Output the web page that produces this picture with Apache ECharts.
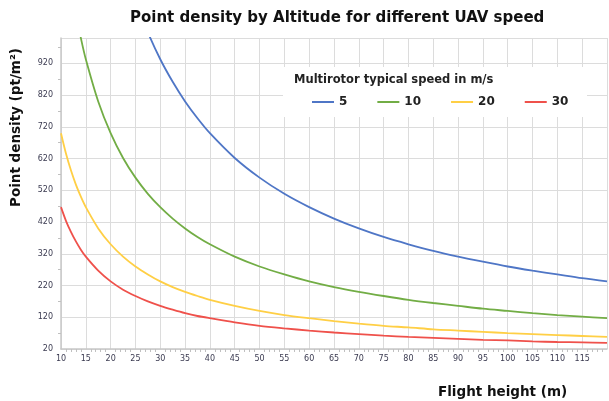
<!DOCTYPE html>
<html>
<head>
<meta charset="utf-8">
<script src="https://cdn.jsdelivr.net/npm/echarts@6/dist/echarts.min.js"></script>
<style>html,body{margin:0;padding:0;background:#fff;}#c{width:609px;height:401px;}</style>
</head>
<body>
<div id="c"></div>
<script>
var heights = [10, 11, 12, 13, 14, 15, 17.5, 20, 22.5, 25, 27.5, 30, 32.5, 35, 37.5, 40, 45, 50, 55, 60, 65, 70, 75, 80, 85, 90, 95, 100, 105, 110, 115, 120];
var speed5  = [null, null, null, null, null, null, null, null, null, 1120, 1018, 933, 862, 800, 747, 700, 622, 560, 509, 467, 431, 400, 373, 350, 329, 311, 295, 280, 267, 255, 243, 233];
var speed10 = [null, null, null, 1077, 1000, 933, 800, 700, 622, 560, 509, 467, 431, 400, 373, 350, 311, 280, 255, 233, 215, 200, 187, 175, 165, 156, 147, 140, 133, 127, 122, 117];
var speed20 = [700, 636, 583, 538, 500, 467, 400, 350, 311, 280, 255, 233, 215, 200, 187, 175, 156, 140, 127, 117, 108, 100, 93, 88, 82, 78, 74, 70, 67, 64, 61, 58];
var speed30 = [467, 424, 389, 359, 333, 311, 267, 233, 207, 187, 170, 156, 144, 133, 124, 117, 104, 93, 85, 78, 72, 67, 62, 58, 55, 52, 49, 47, 44, 42, 41, 39];
var seriesNames = ['5', '10', '20', '30'];
var xTicks = [10, 15, 20, 25, 30, 35, 40, 45, 50, 55, 60, 65, 70, 75, 80, 85, 90, 95, 100, 105, 110, 115];
var yTicks = [20, 120, 220, 320, 420, 520, 620, 720, 820, 920];

var colors = ['#4f76c6', '#72ad45', '#ffcf45', '#ef514b'];
function pairs(vals) { return heights.map(function (h, i) { return [h, vals[i]]; }); }
var allVals = [speed5, speed10, speed20, speed30];

var chart = echarts.init(document.getElementById('c'));
var font = 'DejaVu Sans';
chart.setOption({
  animation: false,
  backgroundColor: '#ffffff',
  grid: { left: 61, right: 2, top: 38, bottom: 52, containLabel: false },
  xAxis: {
    type: 'value', min: 10, max: 120, interval: 5,
    axisLine: { lineStyle: { color: '#c8c8c8', width: 1.5 } },
    axisTick: { show: false },
    minorTick: { show: true, splitNumber: 5, length: 3, lineStyle: { color: '#c0c0c0' } },
    splitLine: { show: true, lineStyle: { color: '#dcdcdc', width: 1 } },
    axisLabel: {
      fontFamily: font, fontSize: 8, color: '#3a3a50', margin: 6, showMaxLabel: false,
      formatter: function (v) { return xTicks.indexOf(v) >= 0 ? String(v) : ''; }
    }
  },
  yAxis: {
    type: 'value', min: 20, max: 1000, interval: 100,
    axisLine: { show: true, lineStyle: { color: '#c8c8c8', width: 1.5 } },
    axisTick: { show: false },
    minorTick: { show: true, splitNumber: 2, length: 3, lineStyle: { color: '#c0c0c0' } },
    splitLine: { show: true, lineStyle: { color: '#dcdcdc', width: 1 } },
    axisLabel: {
      fontFamily: font, fontSize: 8, color: '#3a3a50', margin: 8, showMaxLabel: false,
      formatter: function (v) { return yTicks.indexOf(v) >= 0 ? String(v) : ''; }
    }
  },
  legend: {
    left: 312, top: 96, itemGap: 30, itemWidth: 22, itemHeight: 2, icon: 'rect',
    padding: 0, z: 10,
    textStyle: { fontFamily: font, fontWeight: 'bold', fontSize: 12, color: '#222' },
    data: seriesNames
  },
  graphic: [
    { type: 'rect', z: 1, shape: { x: 283, y: 67, width: 304, height: 50 }, style: { fill: '#ffffff' } },
    { type: 'text', z: 5, left: 294, top: 74, style: { text: 'Multirotor typical speed in m/s', fontFamily: font, fontWeight: 'bold', fontSize: 11.5, fill: '#222' } },
    { type: 'text', z: 5, left: 130, top: 11, style: { text: 'Point density by Altitude for different UAV speed', fontFamily: font, fontWeight: 'bold', fontSize: 15, fill: '#111' } },
    { type: 'text', z: 5, x: 438, y: 385, style: { text: 'Flight height (m)', fontFamily: font, fontWeight: 'bold', fontSize: 13.5, fill: '#111' } },
    { type: 'text', z: 5, x: 9, y: 207, rotation: Math.PI / 2, style: { text: 'Point density (pt/m²)', fontFamily: font, fontWeight: 'bold', fontSize: 13.5, fill: '#111' } }
  ],
  series: seriesNames.map(function (n, i) {
    return {
      name: n, type: 'line', data: pairs(allVals[i]), smooth: 0.3, showSymbol: false,
      connectNulls: false, clip: true,
      lineStyle: { width: 1.8, color: colors[i] }, itemStyle: { color: colors[i] }
    };
  })
});
</script>
</body>
</html>
